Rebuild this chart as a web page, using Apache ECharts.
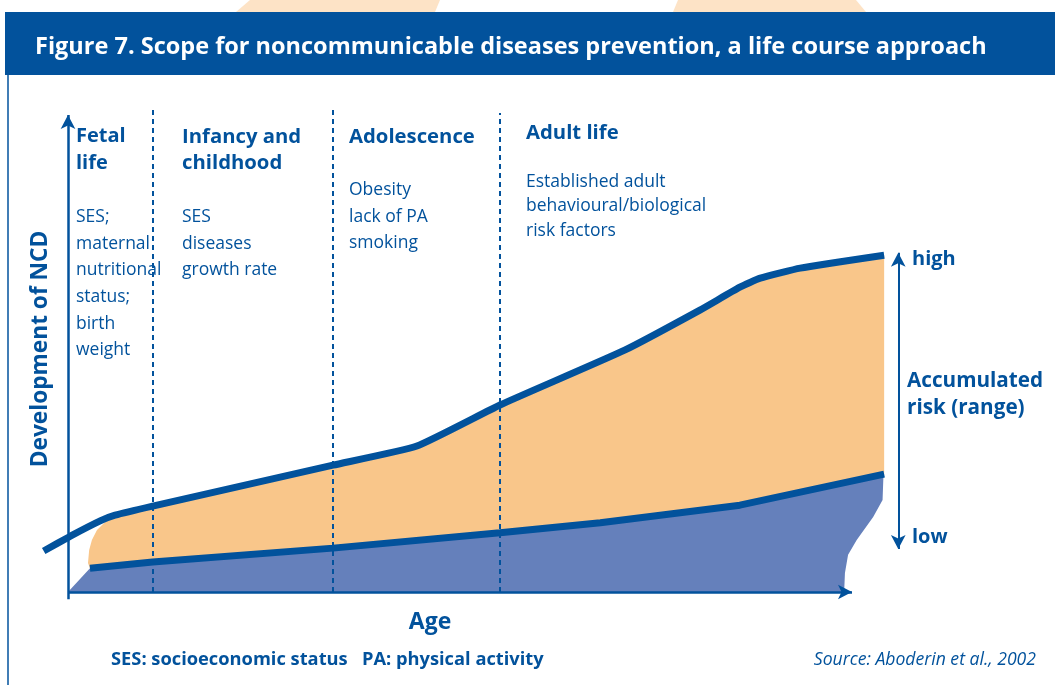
<!DOCTYPE html>
<html>
<head>
<meta charset="utf-8">
<script src="https://cdn.jsdelivr.net/npm/echarts@6/dist/echarts.min.js"></script>
<style>
  html, body { margin: 0; padding: 0; background: #fff; }
  #chart { width: 1055px; height: 685px; }
</style>
</head>
<body>
<div id="chart"></div>
<script>
// upper curve: highest accumulated risk (age, risk)
var upperAge  = [-3.1, 0.3, 4.1, 6.0, 10.8, 33.8, 44.5, 55.1, 71.0, 80.6, 85.7, 88.3, 93.4, 104.1];
var upperRisk = [8.6, 11.7, 14.9, 16.1, 18.0, 26.6, 30.6, 39.2, 50.7, 59.1, 63.9, 65.8, 67.9, 70.6];
// lower curve: lowest accumulated risk
var lowerAge  = [2.8, 10.8, 33.8, 55.1, 67.9, 85.7, 104.1];
var lowerRisk = [5.0, 6.3, 9.2, 12.4, 14.5, 18.2, 24.7];
// rounded left edge of the orange band
var bandEdgeAge  = [2.55, 2.7, 3.05, 3.7, 4.5];
var bandEdgeRisk = [6.1, 8.8, 10.9, 13.0, 14.3];
// wavy right edge of the blue base
var baseEdgeAge  = [104.0, 103.9, 102.7, 100.6, 99.5, 99.1, 99.0];
var baseEdgeRisk = [23.9, 19.3, 15.7, 10.9, 7.8, 4.0, 0];
// life stage boundaries (dashed lines) and their tops
var stageAge = [10.8, 33.8, 55.1];
var stageTop = [101.5, 101.7, 100.4];

var stageNames = ['Fetal\nlife', 'Infancy and\nchildhood', 'Adolescence', 'Adult life'];
var stageFactors = [
  'SES;\nmaternal\nnutritional\nstatus;\nbirth\nweight',
  'SES\ndiseases\ngrowth rate',
  'Obesity\nlack of PA\nsmoking',
  'Established adult\nbehavioural/biological\nrisk factors'
];

var BLUE = '#02529c';
var FILL_BLUE = '#6580bb';
var ORANGE = '#f9c68a';
var FONT = "'Open Sans', sans-serif";

// polygons built from the arrays above
var basePolyAge = [0].concat(lowerAge, baseEdgeAge);
var basePolyRisk = [0].concat(lowerRisk, baseEdgeRisk);
var bandPolyAge = [lowerAge[0]].concat(bandEdgeAge, upperAge.slice(3), lowerAge.slice().reverse());
var bandPolyRisk = [lowerRisk[0]].concat(bandEdgeRisk, upperRisk.slice(3), lowerRisk.slice().reverse());

function pairs(xs, ys) {
  return xs.map(function (x, i) { return [x, ys[i]]; });
}

function areaSeries(xs, ys, color, z) {
  return {
    type: 'custom',
    silent: true,
    z: z,
    data: pairs(xs, ys),
    renderItem: function (params, api) {
      if (params.dataIndex > 0) return;
      var pts = xs.map(function (x, i) { return api.coord([x, ys[i]]); });
      return { type: 'polygon', shape: { points: pts }, style: { fill: color } };
    }
  };
}

function seg(a, b, symA, symB, style) {
  return [
    { coord: a, symbol: symA, symbolSize: [11, 14], lineStyle: style },
    { coord: b, symbol: symB, symbolSize: [11, 14] }
  ];
}

var markData = [
  seg([0, -1.5], [0, 100], 'none', 'arrow', { color: BLUE, width: 2.5, type: 'solid' }),
  seg([0, 0], [100, 0], 'none', 'arrow', { color: BLUE, width: 2.5, type: 'solid' }),
  seg([105.9, 9.0], [105.9, 71.1], 'arrow', 'arrow', { color: BLUE, width: 2, type: 'solid' })
];
stageAge.forEach(function (a, i) {
  markData.push(seg([a, 0], [a, stageTop[i]], 'none', 'none', { color: BLUE, width: 2, type: [5, 4] }));
});

function txt(text, x, y, size, weight, lh) {
  return {
    type: 'text',
    style: {
      text: text, x: x, y: y, fill: BLUE,
      font: weight + ' ' + size + 'px ' + FONT,
      lineHeight: lh, textAlign: 'left', textVerticalAlign: 'top'
    }
  };
}

var chart = echarts.init(document.getElementById('chart'));
chart.setOption({
  animation: false,
  backgroundColor: '#fff',
  grid: { left: 36.64, right: 124.6, top: 86.38, bottom: 78.69 },
  xAxis: {
    type: 'value', min: -4, max: 110,
    axisLine: { show: false }, axisTick: { show: false },
    axisLabel: { show: false }, splitLine: { show: false }
  },
  yAxis: {
    type: 'value', min: -3, max: 106,
    axisLine: { show: false }, axisTick: { show: false },
    axisLabel: { show: false }, splitLine: { show: false }
  },
  series: [
    areaSeries(basePolyAge, basePolyRisk, FILL_BLUE, 1),
    areaSeries(bandPolyAge, bandPolyRisk, ORANGE, 1),
    {
      type: 'line', data: [], z: 2, silent: true,
      markLine: {
        silent: true, animation: false,
        label: { show: false },
        data: markData
      }
    },
    {
      type: 'line', data: pairs(lowerAge, lowerRisk), z: 3, silent: true,
      showSymbol: false, symbol: 'none',
      lineStyle: { color: BLUE, width: 7, cap: 'butt' }
    },
    {
      type: 'line', data: pairs(upperAge, upperRisk), z: 3, silent: true,
      showSymbol: false, symbol: 'none', smooth: 0.15,
      lineStyle: { color: BLUE, width: 7, cap: 'butt' }
    }
  ],
  graphic: [
    { type: 'polygon', shape: { points: [[250, 0], [440, 0], [435, 12], [236, 12]] }, style: { fill: '#fde3c6' } },
    { type: 'polygon', shape: { points: [[678, 0], [856, 0], [866, 12], [673, 12]] }, style: { fill: '#fde3c6' } },
    { type: 'rect', shape: { x: 5, y: 12, width: 1050, height: 63 }, style: { fill: BLUE } },
    { type: 'line', shape: { x1: 8, y1: 75, x2: 8, y2: 685 }, style: { stroke: BLUE, lineWidth: 1.5 } },
    {
      type: 'text',
      style: {
        text: 'Figure 7. Scope for noncommunicable diseases prevention, a life course approach',
        x: 35, y: 47, fill: '#fff', font: 'bold 23.5px ' + FONT, textVerticalAlign: 'middle'
      }
    },
    txt(stageNames[0], 76, 122.5, 20, 'bold', 27),
    txt(stageNames[1], 182, 123.5, 20.3, 'bold', 26.5),
    txt(stageNames[2], 349, 124, 20.3, 'bold', 26.5),
    txt(stageNames[3], 526, 120, 20.3, 'bold', 26.5),
    txt(stageFactors[0], 76, 204, 17.5, 'normal', 26.6),
    txt(stageFactors[1], 182, 204, 17.5, 'normal', 26.6),
    txt(stageFactors[2], 349, 177, 17.5, 'normal', 26.5),
    txt(stageFactors[3], 526, 170, 17.5, 'normal', 24.3),
    txt('high', 912, 246, 20, 'bold', 27),
    txt('Accumulated\nrisk (range)', 907, 368, 20.7, 'bold', 27),
    txt('low', 912, 524, 20, 'bold', 27),
    txt('Accumulated risk', 655, 400, 19, 'bold', 26),
    {
      type: 'text', x: 41, y: 349, rotation: Math.PI / 2,
      style: {
        text: 'Development of NCD', x: 0, y: 0, fill: BLUE,
        font: 'bold 22.7px ' + FONT, textAlign: 'center', textVerticalAlign: 'middle'
      }
    },
    {
      type: 'text',
      style: { text: 'Age', x: 430, y: 622, fill: BLUE, font: 'bold 23px ' + FONT, textAlign: 'center', textVerticalAlign: 'middle' }
    },
    {
      type: 'text',
      style: { text: 'SES: socioeconomic status   PA: physical activity', x: 111, y: 660, fill: BLUE, font: 'bold 18.3px ' + FONT, textVerticalAlign: 'middle' }
    },
    {
      type: 'text',
      style: { text: 'Source: Aboderin et al., 2002', x: 1036, y: 660, fill: BLUE, font: 'italic 17.6px ' + FONT, textAlign: 'right', textVerticalAlign: 'middle' }
    }
  ]
});
</script>
</body>
</html>
